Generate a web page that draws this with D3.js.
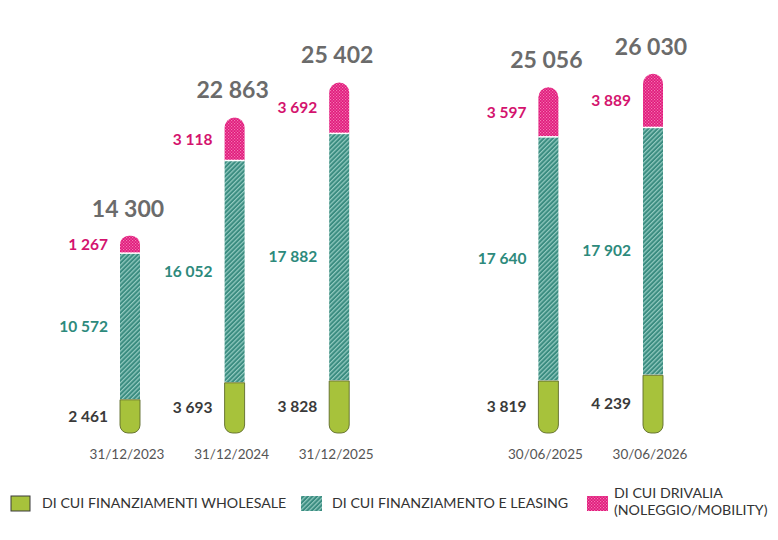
<!DOCTYPE html>
<html><head><meta charset="utf-8">
<script src="https://cdn.jsdelivr.net/npm/d3@7/dist/d3.min.js"></script>
<style>body{margin:0;background:#fff;}svg{display:block;font-family:Lato,"Open Sans",sans-serif;}</style>
</head><body>
<svg id="c" width="778" height="540"></svg>
<script>
const categories = ["31/12/2023","31/12/2024","31/12/2025","30/06/2025","30/06/2026"];
const wholesale = [2461, 3693, 3828, 3819, 4239];
const leasing = [10572, 16052, 17882, 17640, 17902];
const drivalia = [1267, 3118, 3692, 3597, 3889];
const totals = [14300, 22863, 25402, 25056, 26030];
const legendLabels = [["DI CUI FINANZIAMENTI WHOLESALE"],["DI CUI FINANZIAMENTO E LEASING"],["DI CUI DRIVALIA","(NOLEGGIO/MOBILITY)"]];

const colors = {green:"#a7c23b", greenStroke:"#5f6b2a", teal:"#3a8c80", tealLight:"#94cbc1", pink:"#e0187b", pinkLight:"#f479b3"};
const svg = d3.select("#c");
const defs = svg.append("defs");
const ph = defs.append("pattern").attr("id","hatch").attr("patternUnits","userSpaceOnUse").attr("width",3.2).attr("height",3.2).attr("patternTransform","rotate(45)");
ph.append("rect").attr("width",3.2).attr("height",3.2).attr("fill",colors.teal);
ph.append("rect").attr("width",1.2).attr("height",3.2).attr("fill",colors.tealLight);
const pd = defs.append("pattern").attr("id","dots").attr("patternUnits","userSpaceOnUse").attr("width",3).attr("height",3);
pd.append("rect").attr("width",3).attr("height",3).attr("fill",colors.pink);
pd.append("rect").attr("width",1.2).attr("height",1.2).attr("fill",colors.pinkLight);
pd.append("rect").attr("x",1.5).attr("y",1.5).attr("width",1.2).attr("height",1.2).attr("fill",colors.pinkLight);

const fmt = d3.formatLocale({decimal:",", thousands:" ", grouping:[3], currency:["","€"]}).format(",d");

const slots = [categories[0],categories[1],categories[2],"__gap__",categories[3],categories[4]];
const x = d3.scalePoint().domain(slots).range([130, 653]);
const y = d3.scaleLinear().domain([0, 30000]).range([433, 19]);
const bw = 20, r = 10;

function rr(x0,y0,w,h,rt,rb){
  return `M${x0},${y0+rt}`+
    (rt?`A${rt},${rt} 0 0 1 ${x0+rt},${y0}L${x0+w-rt},${y0}A${rt},${rt} 0 0 1 ${x0+w},${y0+rt}`:`L${x0+w},${y0}`)+
    `L${x0+w},${y0+h-rb}`+
    (rb?`A${rb},${rb} 0 0 1 ${x0+w-rb},${y0+h}L${x0+rb},${y0+h}A${rb},${rb} 0 0 1 ${x0},${y0+h-rb}`:`L${x0},${y0+h}`)+"Z";
}

categories.forEach((c,i)=>{
  const cx = x(c), x0 = cx - bw/2;
  const g = svg.append("g");
  const yG = y(wholesale[i]), yT = y(wholesale[i]+leasing[i]), yP = y(wholesale[i]+leasing[i]+drivalia[i]);
  g.append("path").attr("d", rr(x0, yP, bw, yT-yP, Math.min(r,(yT-yP)/2), 0)).attr("fill","url(#dots)");
  g.append("rect").attr("x",x0).attr("y",yT).attr("width",bw).attr("height",yG-yT).attr("fill","url(#hatch)");
  g.append("line").attr("x1",x0).attr("x2",x0+bw).attr("y1",yT).attr("y2",yT).attr("stroke","#fff").attr("stroke-width",1.5);
  g.append("path").attr("d", rr(x0, yG+0.75, bw, y(0)-yG-0.75, 0, 8)).attr("fill",colors.green).attr("stroke",colors.greenStroke).attr("stroke-width",0.9);

  svg.append("text").attr("x",cx-2).attr("y",yP-19).attr("text-anchor","middle").attr("font-size",23).attr("font-weight",700).attr("fill","#6b6b6b").text(fmt(totals[i]));
  const lx = x0 - 12;
  svg.append("text").attr("x",lx).attr("y",(yP+yT)/2+5.5).attr("text-anchor","end").attr("font-size",15.5).attr("font-weight",700).attr("fill","#d4136e").text(fmt(drivalia[i]));
  svg.append("text").attr("x",lx).attr("y",(yT+yG)/2+5.5).attr("text-anchor","end").attr("font-size",15.5).attr("font-weight",700).attr("fill","#2d8a7c").text(fmt(leasing[i]));
  svg.append("text").attr("x",lx).attr("y",(yG+y(0))/2+5.5).attr("text-anchor","end").attr("font-size",15.5).attr("font-weight",700).attr("fill","#3a3a3a").text(fmt(wholesale[i]));
  svg.append("text").attr("x",cx-3).attr("y",459).attr("text-anchor","middle").attr("font-size",13.5).attr("fill","#555").text(c);
});

const legX = [11, 301, 587], legFill = [colors.green, "url(#hatch)", "url(#dots)"];
legendLabels.forEach((lines,i)=>{
  const g = svg.append("g");
  g.append("rect").attr("x",legX[i]).attr("y",496).attr("width",i===0?19:21).attr("height",15).attr("fill",legFill[i])
    .attr("stroke",i===0?"#3a3a3a":"none").attr("stroke-width",1);
  const t = g.append("text").attr("font-size",14.2).attr("fill","#333");
  lines.forEach((l,j)=>{
    t.append("tspan").attr("x",legX[i]+(i===2?27:31)).attr("y", lines.length>1 ? 498+j*17 : 508).text(l);
  });
});
</script>
</body></html>
